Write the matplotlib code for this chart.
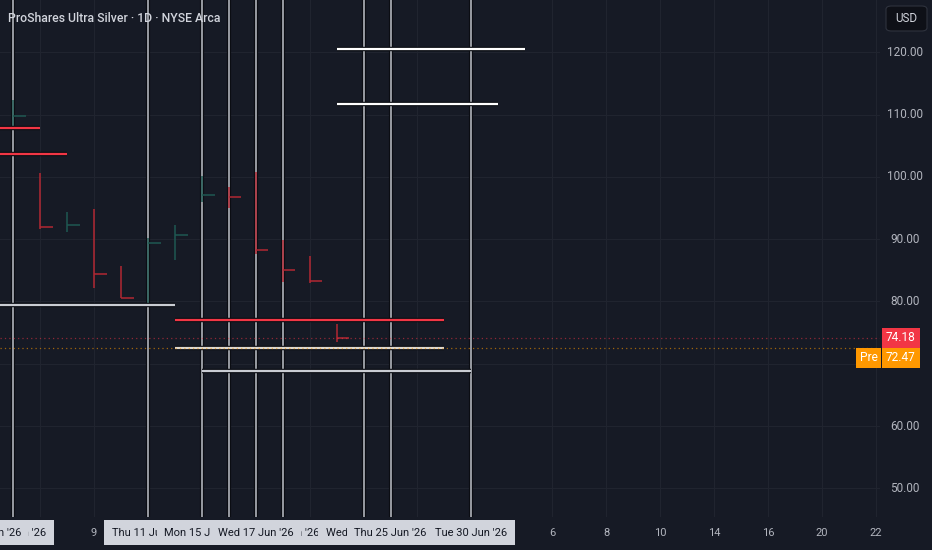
import matplotlib
matplotlib.use("Agg")
import matplotlib.pyplot as plt
import matplotlib.patheffects as pe
from matplotlib.patches import Rectangle, FancyBboxPatch
import matplotlib.transforms as mtransforms

plt.rcParams['font.family'] = ['Roboto', 'DejaVu Sans']

# ---------------- data ----------------
title = "ProShares Ultra Silver · 1D · NYSE Arca"
bar_idx = [0, 1, 2, 3, 4, 5, 6, 7, 8, 9, 10, 11, 12]
highs = [112.3, 100.7, 94.3, 94.8, 85.7, 90.2, 92.2, 100.2, 98.3, 100.8, 89.9, 87.3, 76.4]
lows = [107.5, 91.6, 91.2, 82.1, 80.5, 79.7, 86.7, 96.0, 95.0, 87.7, 83.2, 82.9, 73.5]
closes = [109.8, 92.0, 92.2, 84.4, 80.6, 89.4, 90.7, 97.1, 96.8, 88.3, 85.0, 83.3, 74.18]
prev_close = 108.0

# horizontal drawn lines (price, start bar, end bar, kind)
hl_prices = [107.8, 103.7, 120.6, 111.75, 79.4, 77.0, 72.5, 68.8]
hl_start = [-3, -3, 12, 12, -3, 6, 6, 7]
hl_end = [1, 2, 19, 18, 6, 16, 16, 17]
hl_kind = ['red', 'red', 'white', 'white', 'gray', 'red', 'beige', 'gray']

# vertical drawn lines (bar index) and their date labels
vl_idx = [0, 5, 7, 8, 9, 10, 13, 14, 17]
date_label_idx = [-1, 0, 5, 7, 8, 9, 10, 13, 14, 17]
date_label_txt = ["Wed 3 Jun '26", "Thu 4 Jun '26", "Thu 11 Jun '26", "Mon 15 Jun '26",
                  "Tue 16 Jun '26", "Wed 17 Jun '26", "Thu 18 Jun '26", "Wed 24 Jun '26",
                  "Thu 25 Jun '26", "Tue 30 Jun '26"]
date_label_z = [2, 1, 1, 2, 0, 3, 2, 3, 4, 5]

# plain time-axis ticks
tick_idx = [3, 20, 22, 24, 26, 28, 30, 32]
tick_txt = ["9", "6", "8", "10", "14", "16", "20", "22"]
vgrid_idx = [1, 3, 5, 7, 9, 11, 13, 15, 17, 20, 22, 24, 26, 28, 30, 32]

price_ticks = [120, 110, 100, 90, 80, 70, 60, 50]
last_price = 74.18
pre_price = 72.47

# ---------------- style ----------------
BG = '#161a25'
GRID = '#20242f'
TXT = '#b2b5be'
RED = '#f23645'
DOWN = '#b22833'
UP = '#1f5852'
colors = {'red': RED, 'white': '#ffffff', 'gray': '#c9ccd3', 'beige': '#ddd8d0'}

W, H = 932, 550
fig = plt.figure(figsize=(W / 100, H / 100), dpi=100, facecolor=BG)
ax_bottom_px = 517
ax = fig.add_axes([0, (H - ax_bottom_px) / H, 880 / W, ax_bottom_px / H])
ax.set_facecolor(BG)
x0px, step = 13.2, 26.95
ax.set_xlim(-x0px / step, (880 - x0px) / step)
ppu = 6.23
ax.set_ylim(120 - (ax_bottom_px - 52.3) / ppu, 120 + 52.3 / ppu)
for s in ax.spines.values():
    s.set_visible(False)
ax.set_xticks([])
ax.set_yticks([])

# grid
for p in price_ticks:
    ax.axhline(p, color=GRID, lw=0.8, zorder=0)
for k in vgrid_idx:
    ax.axvline(k, color=GRID, lw=0.8, zorder=0)

# vertical drawn lines
shadow = [pe.Stroke(linewidth=3.0, foreground='#0b0d13'), pe.Normal()]
for k in vl_idx:
    ax.axvline(k, color='#a3a6ae', lw=1.3, zorder=2, path_effects=shadow)

# bars (HLC)
pc = prev_close
for k, h, l, c in zip(bar_idx, highs, lows, closes):
    col = UP if c >= pc else DOWN
    ax.plot([k, k], [l, h], color=col, lw=1.1, solid_capstyle='butt', zorder=3)
    ax.plot([k, k + 0.47], [c, c], color=col, lw=1.1, solid_capstyle='butt', zorder=3)
    pc = c

# horizontal drawn lines
for p, s, e, kind in zip(hl_prices, hl_start, hl_end, hl_kind):
    ax.plot([s, e], [p, p], color=colors[kind], lw=1.6, solid_capstyle='butt', zorder=4,
            path_effects=[pe.Stroke(linewidth=3.2, foreground='#0b0d13'), pe.Normal()])

# price lines (dotted)
ax.axhline(last_price, color=RED, lw=0.9, ls=(0, (1, 2.5)), alpha=0.55, zorder=5)
ax.axhline(pre_price, color='#ff9800', lw=0.9, ls=(0, (1, 2.5)), alpha=0.6, zorder=5)

# title
fig.text(7.5 / W, 1 - 18.5 / H, title, color='#d1d4dc', fontsize=8.8, fontweight='medium',
         ha='left', va='center')

# price axis labels
ytr = mtransforms.blended_transform_factory(ax.transAxes, ax.transData)
for p in price_ticks:
    ax.text(905 / 880, p, f"{p:.2f}", transform=ytr, color=TXT, fontsize=8.5,
            ha='center', va='center', clip_on=False, zorder=1)

# price tags
th = 20 / ppu
ax.add_patch(Rectangle((881.5 / 880, last_price - th / 2), 38 / 880, th, transform=ytr,
                       facecolor=RED, edgecolor='none', clip_on=False, zorder=10))
ax.text(900.5 / 880, last_price, f"{last_price:.2f}", transform=ytr, color='white',
        fontsize=8.6, ha='center', va='center', clip_on=False, zorder=11)
pre_c = last_price - th
ax.add_patch(Rectangle((881.5 / 880, pre_c - th / 2), 38 / 880, th, transform=ytr,
                       facecolor='#ff9800', edgecolor='none', clip_on=False, zorder=10))
ax.add_patch(Rectangle((856 / 880, pre_c - th / 2), 25 / 880, th, transform=ytr,
                       facecolor='#ff9800', edgecolor='none', clip_on=False, zorder=10))
ax.text(900.5 / 880, pre_c, f"{pre_price:.2f}", transform=ytr, color='white',
        fontsize=8.6, ha='center', va='center', clip_on=False, zorder=11)
ax.text(868.5 / 880, pre_c, "Pre", transform=ytr, color='white',
        fontsize=8.6, ha='center', va='center', clip_on=False, zorder=11)

# USD box
fig.patches.append(FancyBboxPatch((886 / W, 1 - 31 / H), 41 / W, 25 / H,
                                  boxstyle='round,pad=0,rounding_size=0.006',
                                  transform=fig.transFigure, facecolor='#0e1017',
                                  edgecolor='#2f333e', lw=0.8))
fig.text(906.5 / W, 1 - 18.5 / H, "USD", color='#d1d4dc', fontsize=8.4, ha='center', va='center')

# time axis
xtr = mtransforms.blended_transform_factory(ax.transData, ax.transAxes)
ylab = -(532.5 - ax_bottom_px) / ax_bottom_px
for k, t in zip(tick_idx, tick_txt):
    ax.text(k, ylab, t, transform=xtr, color=TXT, fontsize=8.0, ha='center', va='center',
            clip_on=False, zorder=1)
for k, t, z in zip(date_label_idx, date_label_txt, date_label_z):
    ax.text(k, ylab, t, transform=xtr, color='#131722', fontsize=8.0, ha='center',
            va='center', clip_on=False, zorder=20 + z,
            bbox=dict(boxstyle='square,pad=0.66', facecolor='#d1d4dc', edgecolor='none'))

fig.savefig("out.png", dpi=100, facecolor=BG)
